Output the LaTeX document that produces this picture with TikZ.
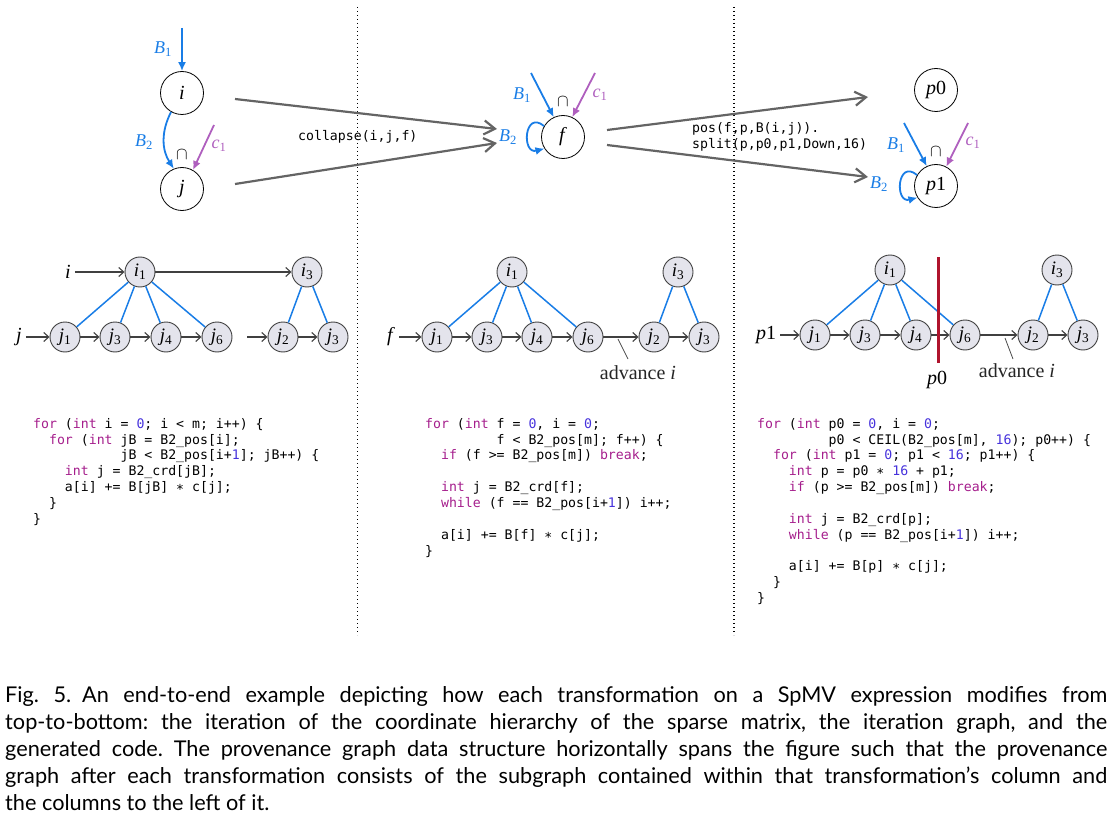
\documentclass[tikz,border=0pt]{standalone}
\usepackage{fontspec}
\setmainfont{Liberation Serif}
\setmonofont{DejaVu Sans Mono}
\newfontfamily\capfont{Lato}
\usetikzlibrary{arrows.meta,calc}
\definecolor{bblue}{RGB}{25,125,230}
\definecolor{cpurple}{RGB}{175,95,190}
\definecolor{ggray}{RGB}{100,100,100}
\definecolor{nfill}{RGB}{228,228,236}
\definecolor{redbar}{RGB}{175,20,45}
\definecolor{kwcol}{RGB}{165,30,140}
\definecolor{numcol}{RGB}{70,50,220}
\newcommand\KW[1]{\textcolor{kwcol}{#1}}
\newcommand\NUM[1]{\textcolor{numcol}{#1}}
\newcommand\VAR[2]{\textit{#1}\textsubscript{#2}}
\begin{document}
\begin{tikzpicture}[x=1pt,y=-1pt,
  topnode/.style={circle, draw=black, line width=0.8pt, minimum size=43pt, inner sep=0pt, font=\fontsize{20}{22}\selectfont},
  gnode/.style={circle, draw=black!75, fill=nfill, line width=0.9pt, minimum size=30pt, inner sep=0pt, font=\fontsize{19}{21}\selectfont},
  barr/.style={draw=bblue, line width=1.8pt, -{Latex[length=9pt,width=8pt]}},
  parr/.style={draw=cpurple, line width=1.8pt, -{Latex[length=9pt,width=8pt]}},
  bigarr/.style={draw=ggray, line width=2.2pt, -{Straight Barb[length=11pt,width=14pt,line width=2.2pt]}},
  garr/.style={draw=black!75, line width=1.1pt, -{Straight Barb[length=5pt,width=9pt,line width=1.1pt]}},
  bline/.style={draw=bblue, line width=1.5pt},
  lbl/.style={font=\fontsize{18}{20}\selectfont, inner sep=1pt},
  rowlbl/.style={font=\fontsize{20}{22}\selectfont, inner sep=4pt},
  advlbl/.style={font=\fontsize{20}{22}\selectfont, inner sep=1pt, text=black!85},
  ttlbl/.style={font=\fontsize{13.2}{16.5}\selectfont\ttfamily, inner sep=0pt, align=left},
  code/.style={anchor=north west, inner sep=0pt, align=left, font=\fontsize{13.2}{15.85}\selectfont\ttfamily},
  sep/.style={draw=black, line width=1.1pt, dash pattern=on 1.4pt off 2.6pt},
  leader/.style={draw=black!70, line width=0.8pt}
]
\useasboundingbox (0,0) rectangle (1112,832);

% separators
\coordinate (s1t) at (357.5,7); \coordinate (s1b) at (357.5,635);
\coordinate (s2t) at (734,7); \coordinate (s2b) at (734,635);
\draw[sep] (s1t) -- (s1b);
\draw[sep] (s2t) -- (s2b);

% ---------- top left ----------
\node[topnode] (i) at (182,93) {\textit{i}};
\node[topnode] (j) at (182,189) {\textit{j}};
\coordinate (b1s) at (182,28);
\draw[barr] (b1s) -- (i.north);
\node[lbl, text=bblue] (lb1a) at (163,49) {\VAR{B}{1}};
\draw[barr] (i.240) to[bend right=30] (j.112);
\node[lbl, text=bblue] (lb2a) at (144,142) {\VAR{B}{2}};
\node[lbl] (capa) at (182,155) {$\cap$};
\coordinate (c1a) at (214,125);
\draw[parr] (c1a) -- (j.60);
\node[lbl, text=cpurple] (lc1a) at (219,146) {\VAR{c}{1}};

\coordinate (g1s) at (235,99); \coordinate (g1e) at (497,129);
\coordinate (g2s) at (235,184); \coordinate (g2e) at (497,143);
\draw[bigarr] (g1s) -- (g1e);
\draw[bigarr] (g2s) -- (g2e);
\node[ttlbl, anchor=west] (collapse) at (298,137) {collapse(i,j,f)};

% ---------- top middle ----------
\node[topnode] (f) at (563,137) {\textit{f}};
\draw[barr] (f.150) .. controls +(140:26pt) and +(195:24pt) .. (f.212);
\node[lbl, text=bblue] (lb2b) at (508,137) {\VAR{B}{2}};
\coordinate (b1b) at (531,73);
\draw[barr] (b1b) -- (f.115);
\node[lbl, text=bblue] (lb1b) at (522,95) {\VAR{B}{1}};
\node[lbl] (capb) at (563,102) {$\cap$};
\coordinate (c1b) at (595,73);
\draw[parr] (c1b) -- (f.65);
\node[lbl, text=cpurple] (lc1b) at (600,95) {\VAR{c}{1}};

\coordinate (g3s) at (607,130); \coordinate (g3e) at (868,97);
\coordinate (g4s) at (607,145); \coordinate (g4e) at (868,177);
\draw[bigarr] (g3s) -- (g3e);
\draw[bigarr] (g4s) -- (g4e);
\node[ttlbl, anchor=west] (posl) at (692,137) {pos(f,p,B(i,j)).\\split(p,p0,p1,Down,16)};

% ---------- top right ----------
\node[topnode] (p0) at (936,90) {\textit{p}0};
\node[topnode] (p1) at (936,186) {\textit{p}1};
\draw[barr] (p1.150) .. controls +(140:26pt) and +(195:24pt) .. (p1.212);
\node[lbl, text=bblue] (lb2c) at (879,184) {\VAR{B}{2}};
\coordinate (b1c) at (904,123);
\draw[barr] (b1c) -- (p1.115);
\node[lbl, text=bblue] (lb1c) at (896,145) {\VAR{B}{1}};
\node[lbl] (capc) at (936,152) {$\cap$};
\coordinate (c1c) at (968,123);
\draw[parr] (c1c) -- (p1.62);
\node[lbl, text=cpurple] (lc1c) at (973,143) {\VAR{c}{1}};

% ---------- row 2 left ----------
\node[gnode] (a-i1) at (140,272) {\VAR{i}{1}};
\node[gnode] (a-i3) at (307,272) {\VAR{i}{3}};
\node[gnode] (a-j1) at (65,337) {\VAR{j}{1}};
\node[gnode] (a-j3) at (115,337) {\VAR{j}{3}};
\node[gnode] (a-j4) at (166,337) {\VAR{j}{4}};
\node[gnode] (a-j6) at (217,337) {\VAR{j}{6}};
\node[gnode] (a-j2) at (283,337) {\VAR{j}{2}};
\node[gnode] (a-j3b) at (333,337) {\VAR{j}{3}};
\node[rowlbl] (a-li) at (68,272) {\textit{i}};
\node[rowlbl] (a-lj) at (19,337) {\textit{j}};
\draw[garr] (a-li) -- (a-i1);
\draw[garr] (a-i1) -- (a-i3);
\draw[garr] (a-lj) -- (a-j1);
\draw[garr] (a-j1) -- (a-j3);
\draw[garr] (a-j3) -- (a-j4);
\draw[garr] (a-j4) -- (a-j6);
\coordinate (a-js) at (247,337);
\draw[garr] (a-js) -- (a-j2);
\draw[garr] (a-j2) -- (a-j3b);
\foreach \t in {j1,j3,j4,j6} \draw[bline] (a-i1) -- (a-\t);
\foreach \t in {j2,j3b} \draw[bline] (a-i3) -- (a-\t);

% ---------- row 2 middle ----------
\node[gnode] (b-i1) at (512,272) {\VAR{i}{1}};
\node[gnode] (b-i3) at (678,272) {\VAR{i}{3}};
\node[gnode] (b-j1) at (437,337) {\VAR{j}{1}};
\node[gnode] (b-j3) at (487,337) {\VAR{j}{3}};
\node[gnode] (b-j4) at (537,337) {\VAR{j}{4}};
\node[gnode] (b-j6) at (588,337) {\VAR{j}{6}};
\node[gnode] (b-j2) at (654,337) {\VAR{j}{2}};
\node[gnode] (b-j3b) at (704,337) {\VAR{j}{3}};
\node[rowlbl] (b-lf) at (391,337) {\textit{f}};
\draw[garr] (b-lf) -- (b-j1);
\draw[garr] (b-j1) -- (b-j3);
\draw[garr] (b-j3) -- (b-j4);
\draw[garr] (b-j4) -- (b-j6);
\draw[garr] (b-j6) -- (b-j2);
\draw[garr] (b-j2) -- (b-j3b);
\foreach \t in {j1,j3,j4,j6} \draw[bline] (b-i1) -- (b-\t);
\foreach \t in {j2,j3b} \draw[bline] (b-i3) -- (b-\t);
\node[advlbl] (b-adv) at (638,373) {advance \textit{i}};
\coordinate (b-ls) at (628,359); \coordinate (b-le) at (618,339);
\draw[leader] (b-ls) -- (b-le);

% ---------- row 2 right ----------
\node[gnode] (c-i1) at (890,270) {\VAR{i}{1}};
\node[gnode] (c-i3) at (1057,270) {\VAR{i}{3}};
\node[gnode] (c-j1) at (815,335) {\VAR{j}{1}};
\node[gnode] (c-j3) at (865,335) {\VAR{j}{3}};
\node[gnode] (c-j4) at (916,335) {\VAR{j}{4}};
\node[gnode] (c-j6) at (965,335) {\VAR{j}{6}};
\node[gnode] (c-j2) at (1033,335) {\VAR{j}{2}};
\node[gnode] (c-j3b) at (1083,335) {\VAR{j}{3}};
\node[rowlbl] (c-lp) at (766,335) {\textit{p}1};
\draw[garr] (c-lp) -- (c-j1);
\draw[garr] (c-j1) -- (c-j3);
\draw[garr] (c-j3) -- (c-j4);
\draw[garr] (c-j4) -- (c-j6);
\draw[garr] (c-j6) -- (c-j2);
\draw[garr] (c-j2) -- (c-j3b);
\foreach \t in {j1,j3,j4,j6} \draw[bline] (c-i1) -- (c-\t);
\foreach \t in {j2,j3b} \draw[bline] (c-i3) -- (c-\t);
\coordinate (c-rt) at (938,257); \coordinate (c-rb) at (938,363);
\draw[draw=redbar, line width=3pt] (c-rt) -- (c-rb);
\node[rowlbl] (c-p0) at (937,380) {\textit{p}0};
\node[advlbl] (c-adv) at (1017,371) {advance \textit{i}};
\coordinate (c-ls) at (1013,359); \coordinate (c-le) at (1005,338);
\draw[leader] (c-ls) -- (c-le);

% ---------- code ----------
\node[code] (codeL) at (33,418) {%
\KW{for} (\KW{int} i = \NUM{0}; i < m; i++) \{\\
\ \ \KW{for} (\KW{int} jB = B2\_pos[i];\\
\ \ \ \ \ \ \ \ \ \ \ jB < B2\_pos[i+\NUM{1}]; jB++) \{\\
\ \ \ \ \KW{int} j = B2\_crd[jB];\\
\ \ \ \ a[i] += B[jB] ∗ c[j];\\
\ \ \}\\
\}};

\node[code] (codeM) at (425,418) {%
\KW{for} (\KW{int} f = \NUM{0}, i = \NUM{0};\\
\ \ \ \ \ \ \ \ \ f < B2\_pos[m]; f++) \{\\
\ \ \KW{if} (f >= B2\_pos[m]) \KW{break};\\
\mbox{}\\
\ \ \KW{int} j = B2\_crd[f];\\
\ \ \KW{while} (f == B2\_pos[i+\NUM{1}]) i++;\\
\mbox{}\\
\ \ a[i] += B[f] ∗ c[j];\\
\}};

\node[code] (codeR) at (757,418) {%
\KW{for} (\KW{int} p0 = \NUM{0}, i = \NUM{0};\\
\ \ \ \ \ \ \ \ \ p0 < CEIL(B2\_pos[m], \NUM{16}); p0++) \{\\
\ \ \KW{for} (\KW{int} p1 = \NUM{0}; p1 < \NUM{16}; p1++) \{\\
\ \ \ \ \KW{int} p = p0 ∗ \NUM{16} + p1;\\
\ \ \ \ \KW{if} (p >= B2\_pos[m]) \KW{break};\\
\mbox{}\\
\ \ \ \ \KW{int} j = B2\_crd[p];\\
\ \ \ \ \KW{while} (p == B2\_pos[i+\NUM{1}]) i++;\\
\mbox{}\\
\ \ \ \ a[i] += B[p] ∗ c[j];\\
\ \ \}\\
\}};

% ---------- caption ----------
\node[anchor=north west, inner sep=0pt, text width=1102pt, align=justify,
  font=\capfont\fontsize{21.7}{27}\selectfont] (caption) at (5,686) {%
\hyphenpenalty=10000\exhyphenpenalty=10000\frenchspacing
Fig.~5.\enskip An end-to-end example depicting how each transformation on a SpMV expression modifies from\linebreak
top-to-bottom: the iteration of the coordinate hierarchy of the sparse matrix, the iteration graph, and the\linebreak
generated code. The provenance graph data structure horizontally spans the figure such that the provenance\linebreak
graph after each transformation consists of the subgraph contained within that transformation’s column and\linebreak
the columns to the left of it.};
\end{tikzpicture}
\end{document}
